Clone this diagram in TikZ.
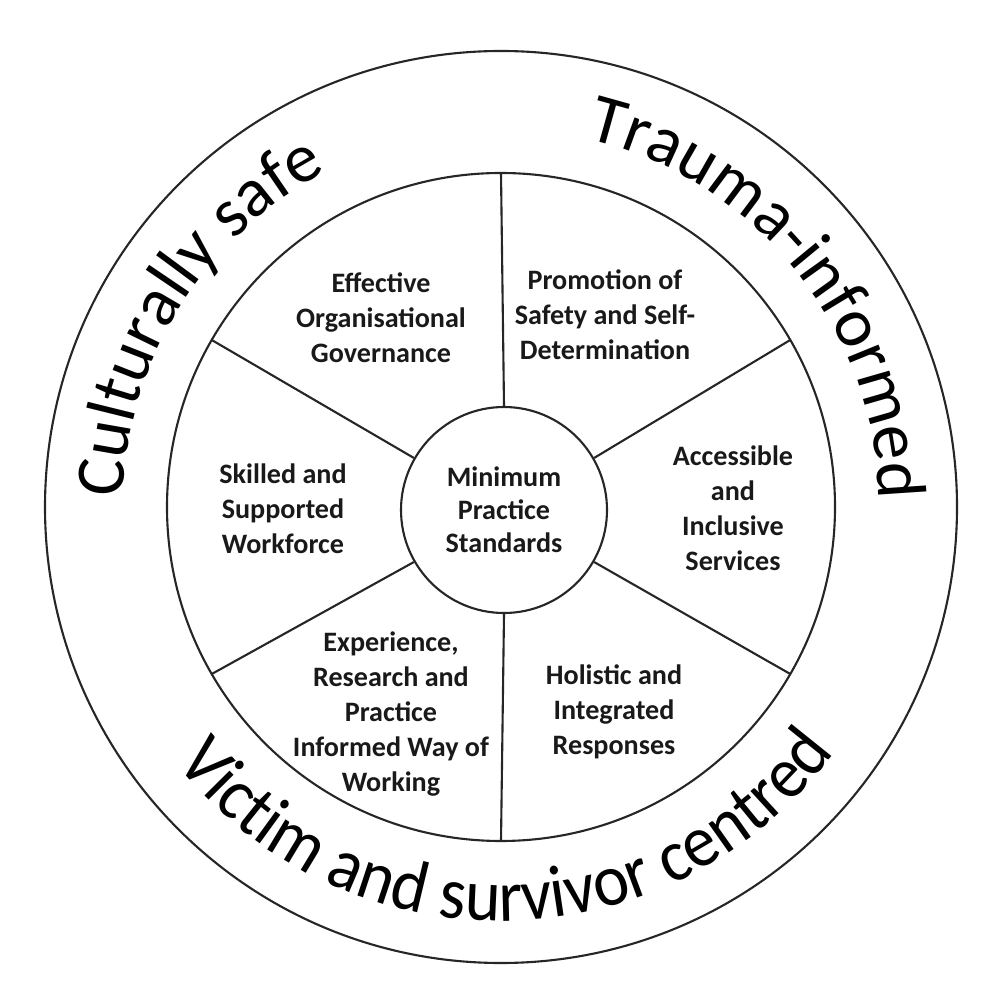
\documentclass[tikz,border=0pt]{standalone}
\usepackage{fontspec}
\setmainfont{Carlito}
\newfontfamily\lowringfont[FakeStretch=0.92]{Carlito}
\usetikzlibrary{decorations.text}

\newcommand\ringtext{\fontsize{19.8}{22}\selectfont}
\newcommand\ringtextlow{\lowringfont\fontsize{21}{24}\selectfont}

\tikzset{
  ring/.style={line width=0.6pt, draw=black!85},
  core/.style={circle, draw=black!85, line width=0.6pt, minimum size=2.06cm, inner sep=0pt,
    align=center, font=\bfseries\fontsize{8}{9.4}\selectfont, text=black!90},
  sector/.style={align=center, font=\bfseries\fontsize{8}{10}\selectfont, text=black!90},
}

\begin{document}
\begin{tikzpicture}
  \useasboundingbox (-5.01,-4.93) rectangle (4.99,5.07);
  \coordinate (O) at (0,0);

  % rings
  \draw[ring] (O) circle (4.56);
  \draw[ring] (O) circle (3.34);
  \node[core] (core) at (0.03,-0.03) {Minimum\\Practice\\Standards};

  % spokes
  \foreach \a in {30,90,...,330}{
    \coordinate (rim\a) at (\a:3.34);
    \draw[ring] (core.\a) -- (rim\a);
  }

  % sectors
  \node[sector] (gov) at (-1.20, 1.89) {Effective\\Organisational\\Governance};
  \node[sector] (safety) at (1.04, 1.92) {Promotion of\\Safety and Self-\\Determination};
  \node[sector] (skilled) at (-2.18, -0.02) {Skilled and\\Supported\\Workforce};
  \node[sector] (access) at (2.32, -0.01) {Accessible\\and\\Inclusive\\Services};
  \node[sector] (exper) at (-1.10, -2.07) {Experience,\\Research and\\Practice\\Informed Way of\\Working};
  \node[sector] (holist) at (1.13, -2.05) {Holistic and\\Integrated\\Responses};

  % outer ring words
  \path[decorate, decoration={text along path, text align=center,
      text={|\ringtext|Culturally safe}}]
    (O) ++(190:3.78) arc[start angle=190, end angle=106, radius=3.78];
  \path[decorate, decoration={text along path, text align=center,
      text={|\ringtext|Trauma-informed}}]
    (O) ++(81:3.78) arc[start angle=81, end angle=-3, radius=3.78];
  \path[decorate, decoration={text along path, text align=center,
      text={|\ringtextlow|Victim and survivor centred}}]
    (O) ++(196:4.14) arc[start angle=196, end angle=346, radius=4.14];
\end{tikzpicture}
\end{document}
